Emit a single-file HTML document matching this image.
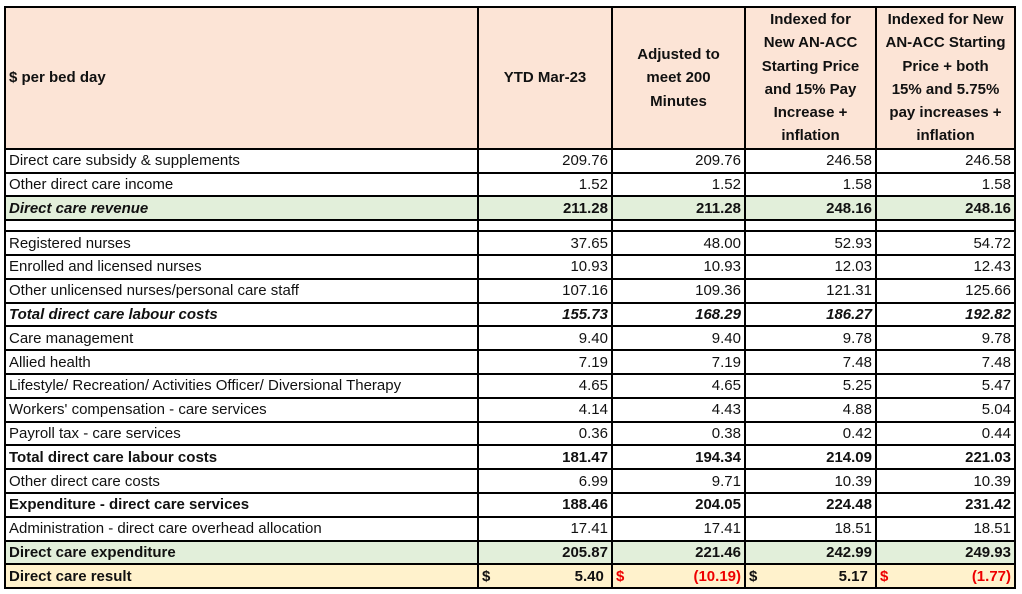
<!DOCTYPE html>
<html><head><meta charset="utf-8"><style>
body{margin:0;background:#fff;width:1022px;height:594px;overflow:hidden;font-family:"Liberation Sans",Arial,sans-serif;}
table{position:absolute;left:4px;top:6px;border-collapse:collapse;table-layout:fixed;}
td{border:2px solid #000;padding:0 3px;font-size:15px;height:21.8px;line-height:21px;white-space:nowrap;overflow:hidden;color:#111}
td.n{text-align:right}
tr.h td{background:#fce4d6;font-weight:bold;font-size:15px;line-height:23.3px;height:137px;text-align:center;padding:0 1px}
tr.h td:first-child{text-align:left;padding:0 3px}
tr.b td{font-weight:bold}
tr.i td{font-style:italic}
tr.g td{background:#e2efda}
tr.y td{background:#fff2cc;font-weight:bold}
tr.e td{height:9px}
.r{color:#e00}
.d{float:left}
</style></head><body>
<table>
<colgroup><col style="width:473px"><col style="width:134px"><col style="width:133px"><col style="width:131px"><col style="width:139px"></colgroup>
<tr class="h"><td>$ per bed day</td><td>YTD Mar-23</td><td>Adjusted to<br>meet 200<br>Minutes</td><td>Indexed for<br>New AN-ACC<br>Starting Price<br>and 15% Pay<br>Increase +<br>inflation</td><td>Indexed for New<br>AN-ACC Starting<br>Price + both<br>15% and 5.75%<br>pay increases +<br>inflation</td></tr>
<tr><td>Direct care subsidy &amp; supplements</td><td class="n">209.76</td><td class="n">209.76</td><td class="n">246.58</td><td class="n">246.58</td></tr>
<tr><td>Other direct care income</td><td class="n">1.52</td><td class="n">1.52</td><td class="n">1.58</td><td class="n">1.58</td></tr>
<tr class="b i g"><td>Direct care revenue</td><td class="n" style="font-style:normal">211.28</td><td class="n" style="font-style:normal">211.28</td><td class="n" style="font-style:normal">248.16</td><td class="n" style="font-style:normal">248.16</td></tr>
<tr class="e"><td></td><td></td><td></td><td></td><td></td></tr>
<tr><td>Registered nurses</td><td class="n">37.65</td><td class="n">48.00</td><td class="n">52.93</td><td class="n">54.72</td></tr>
<tr><td>Enrolled and licensed nurses</td><td class="n">10.93</td><td class="n">10.93</td><td class="n">12.03</td><td class="n">12.43</td></tr>
<tr><td>Other unlicensed nurses/personal care staff</td><td class="n">107.16</td><td class="n">109.36</td><td class="n">121.31</td><td class="n">125.66</td></tr>
<tr class="b i"><td>Total direct care labour costs</td><td class="n">155.73</td><td class="n">168.29</td><td class="n">186.27</td><td class="n">192.82</td></tr>
<tr><td>Care management</td><td class="n">9.40</td><td class="n">9.40</td><td class="n">9.78</td><td class="n">9.78</td></tr>
<tr><td>Allied health</td><td class="n">7.19</td><td class="n">7.19</td><td class="n">7.48</td><td class="n">7.48</td></tr>
<tr><td>Lifestyle/ Recreation/ Activities Officer/ Diversional Therapy</td><td class="n">4.65</td><td class="n">4.65</td><td class="n">5.25</td><td class="n">5.47</td></tr>
<tr><td>Workers' compensation - care services</td><td class="n">4.14</td><td class="n">4.43</td><td class="n">4.88</td><td class="n">5.04</td></tr>
<tr><td>Payroll tax - care services</td><td class="n">0.36</td><td class="n">0.38</td><td class="n">0.42</td><td class="n">0.44</td></tr>
<tr class="b"><td>Total direct care labour costs</td><td class="n">181.47</td><td class="n">194.34</td><td class="n">214.09</td><td class="n">221.03</td></tr>
<tr><td>Other direct care costs</td><td class="n">6.99</td><td class="n">9.71</td><td class="n">10.39</td><td class="n">10.39</td></tr>
<tr class="b"><td>Expenditure - direct care services</td><td class="n">188.46</td><td class="n">204.05</td><td class="n">224.48</td><td class="n">231.42</td></tr>
<tr><td>Administration - direct care overhead allocation</td><td class="n">17.41</td><td class="n">17.41</td><td class="n">18.51</td><td class="n">18.51</td></tr>
<tr class="b g"><td>Direct care expenditure</td><td class="n">205.87</td><td class="n">221.46</td><td class="n">242.99</td><td class="n">249.93</td></tr>
<tr class="y"><td>Direct care result</td><td class="n"><span class="d">$</span>5.40&nbsp;</td><td class="n r"><span class="d">$</span>(10.19)</td><td class="n"><span class="d">$</span>5.17&nbsp;</td><td class="n r"><span class="d">$</span>(1.77)</td></tr>
</table>
</body></html>
